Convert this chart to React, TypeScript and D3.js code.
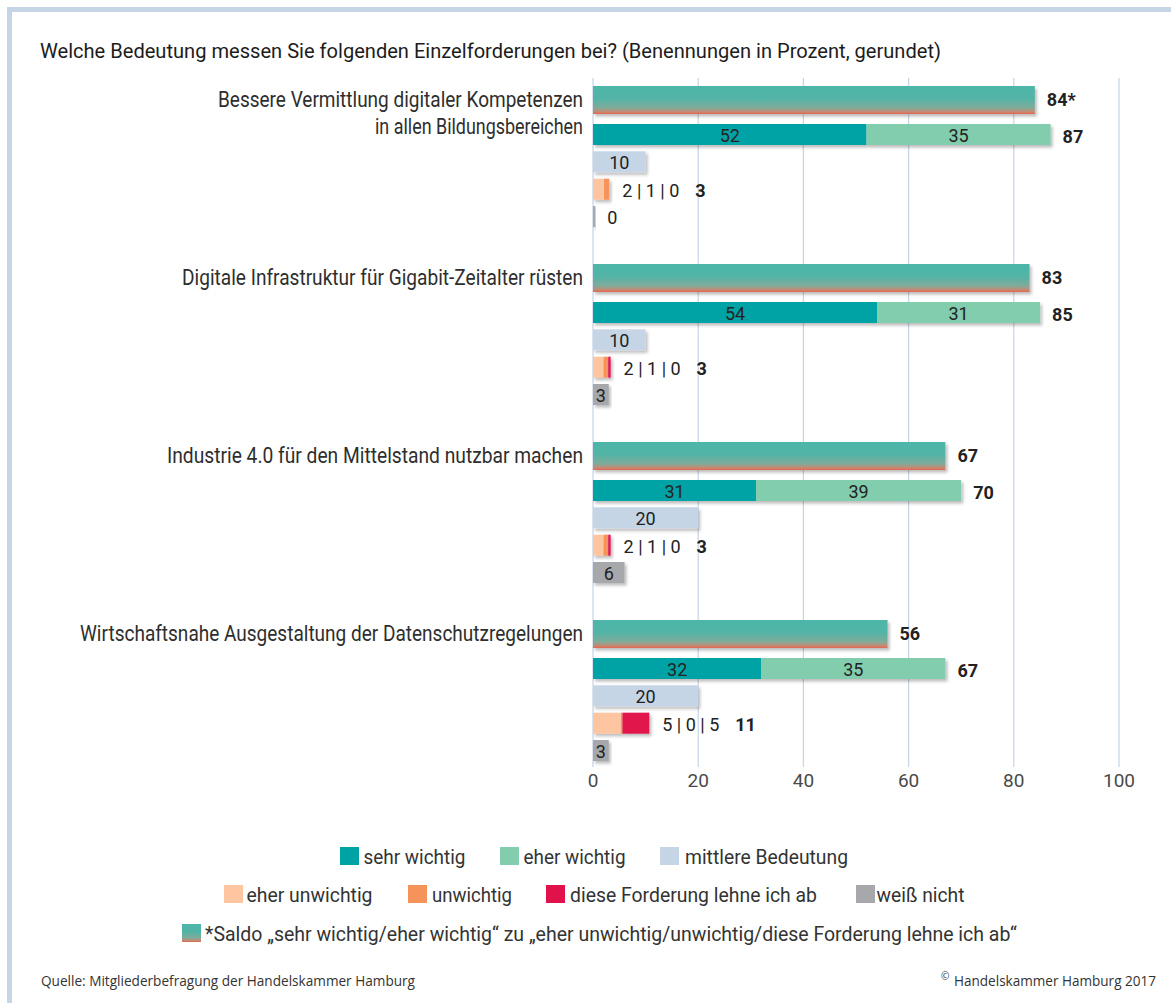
import React from "react";
import * as d3 from "d3";

// ---------- data ----------
const categories: string[][] = [
  ["Bessere Vermittlung digitaler Kompetenzen", "in allen Bildungsbereichen"],
  ["Digitale Infrastruktur für Gigabit-Zeitalter rüsten"],
  ["Industrie 4.0 für den Mittelstand nutzbar machen"],
  ["Wirtschaftsnahe Ausgestaltung der Datenschutzregelungen"],
];
const saldo = [84, 83, 67, 56];
const sehrWichtig = [52, 54, 31, 32];
const eherWichtig = [35, 31, 39, 35];
const wichtigTotal = [87, 85, 70, 67];
const mittlereBedeutung = [10, 10, 20, 20];
const eherUnwichtig = [2.1, 2.0, 2.0, 5.3];
const unwichtig = [1.0, 0.9, 0.9, 0.3];
const lehneAb = [0, 0.45, 0.45, 5.1];
const weissNicht = [0.45, 3, 6, 3];
const xTicks = [0, 20, 40, 60, 80, 100];

const title =
  "Welche Bedeutung messen Sie folgenden Einzelforderungen bei? (Benennungen in Prozent, gerundet)";
const legendRow1 = [
  { key: "sehr", label: "sehr wichtig" },
  { key: "eher", label: "eher wichtig" },
  { key: "mittel", label: "mittlere Bedeutung" },
];
const legendRow2 = [
  { key: "eherUn", label: "eher unwichtig" },
  { key: "un", label: "unwichtig" },
  { key: "ab", label: "diese Forderung lehne ich ab" },
  { key: "weiss", label: "weiß nicht" },
];
const legendRow3 = [
  {
    key: "saldo",
    label:
      "*Saldo „sehr wichtig/eher wichtig“ zu „eher unwichtig/unwichtig/diese Forderung lehne ich ab“",
  },
];
const sourceText = "Quelle: Mitgliederbefragung der Handelskammer Hamburg";
const copyrightText = "Handelskammer Hamburg 2017";

// ---------- styles / layout ----------
const COLORS: Record<string, string> = {
  sehr: "#00a3a5",
  eher: "#82cdae",
  mittel: "#c6d5e6",
  eherUn: "#fdc5a0",
  un: "#f6935a",
  ab: "#e1124b",
  weiss: "#a6a8ab",
  saldo: "url(#saldoGrad)",
};
const FONT = "Roboto, 'Liberation Sans', Arial, sans-serif";
const FOOT_FONT = "'Open Sans', 'Noto Sans', sans-serif";
const TEXT = "#2a2a2a";

const labelLayout = [
  [{ w: 365, dy: 20.7 }, { w: 208, dy: 48.3 }],
  [{ w: 401, dy: 20.7 }],
  [{ w: 416, dy: 20.7 }],
  [{ w: 503, dy: 20.7 }],
];
const legendLayout = [
  { y: 847, items: [{ x: 340, w: 102, gap: 4.5 }, { x: 500, w: 102, gap: 4.5 }, { x: 660, w: 163, gap: 6 }] },
  {
    y: 885,
    items: [
      { x: 224, w: 126, gap: 3.5 },
      { x: 408, w: 80, gap: 5 },
      { x: 546, w: 247, gap: 5 },
      { x: 856, w: 88, gap: 1.5 },
    ],
  },
  { y: 924, items: [{ x: 182, w: 812, gap: 4 }] },
];

function FitText(props: any) {
  const { x, y, w, anchor = "start", size, weight = 400, fill = TEXT, family = FONT, children } = props;
  const sx = anchor === "end" ? x - w : anchor === "middle" ? x - w / 2 : x;
  return (
    <text
      x={sx}
      y={y}
      textLength={w}
      lengthAdjust="spacingAndGlyphs"
      fontSize={size}
      fontWeight={weight}
      fill={fill}
      fontFamily={family}
    >
      {children}
    </text>
  );
}

export default function App() {
  const x = d3.scaleLinear().domain([0, 100]).range([593, 1119]);
  const groups = d3
    .scaleBand<number>()
    .domain(d3.range(categories.length))
    .range([86, 86 + 178 * categories.length])
    .paddingInner(0);
  const SALDO_H = 28;
  const BAR_H = 21;
  const rowOff = [38, 65.3, 92.7, 120];
  const w = (v: number) => x(v) - x(0);

  return (
    <svg
      width={1171}
      height={1003}
      style={{ position: "fixed", left: 0, top: 0, background: "#fff", display: "block" }}
    >
      <defs>
        <linearGradient id="saldoGrad" x1="0" y1="0" x2="0" y2="1">
          <stop offset="0" stopColor="#4db6a9" />
          <stop offset="0.45" stopColor="#52b4a6" />
          <stop offset="0.78" stopColor="#80ab9a" />
          <stop offset="0.92" stopColor="#c48a74" />
          <stop offset="1" stopColor="#e8654c" />
        </linearGradient>
        <filter id="shadow" x="-10%" y="-30%" width="130%" height="180%">
          <feDropShadow dx="2" dy="2.5" stdDeviation="1.6" floodColor="#000" floodOpacity="0.26" />
        </filter>
      </defs>

      {/* frame */}
      <path d="M9.5,1003 V9.5 H1171" fill="none" stroke="#c6d5e6" strokeWidth={5} />

      {/* title */}
      <FitText x={40} y={57.7} w={901} size={20} fill="#1c1c1c">
        {title}
      </FitText>

      {/* grid */}
      {xTicks.map((t) => (
        <g key={t}>
          <line x1={x(t)} x2={x(t)} y1={78} y2={767} stroke="#c6d5e6" strokeWidth={1.2} />
          <text
            x={x(t)}
            y={787.3}
            textAnchor="middle"
            fontSize={19}
            fill="#4a4a4a"
            fontFamily={FONT}
          >
            {t}
          </text>
        </g>
      ))}

      {categories.map((lines, i) => {
        const top = groups(i)!;
        const rSehr = top + rowOff[0];
        const rMit = top + rowOff[1];
        const rUn = top + rowOff[2];
        const rWn = top + rowOff[3];
        const unParts = [eherUnwichtig[i], unwichtig[i], lehneAb[i]];
        const unKeys = ["eherUn", "un", "ab"];
        const unEnd = x(d3.sum(unParts));
        const unRounded = unParts.map((v) => Math.round(v));
        const unTotal = Math.round(d3.sum(unParts));
        const wn = weissNicht[i];
        let acc = 0;
        return (
          <g key={i}>
            {lines.map((ln, j) => (
              <FitText
                key={j}
                x={583}
                y={top + labelLayout[i][j].dy}
                w={labelLayout[i][j].w}
                anchor="end"
                size={22}
                fill="#2e2e2e"
              >
                {ln}
              </FitText>
            ))}

            {/* saldo */}
            <rect
              x={x(0)}
              y={top}
              width={w(saldo[i])}
              height={SALDO_H}
              fill={COLORS.saldo}
              filter="url(#shadow)"
            />
            <text
              x={x(saldo[i]) + 12}
              y={top + 20}
              fontSize={18}
              fontWeight={700}
              fill="#222"
              fontFamily={FONT}
            >
              {i === 0 ? `${saldo[i]}*` : saldo[i]}
            </text>

            {/* sehr + eher */}
            <g filter="url(#shadow)">
              <rect x={x(0)} y={rSehr} width={w(sehrWichtig[i])} height={BAR_H} fill={COLORS.sehr} />
              <rect
                x={x(sehrWichtig[i])}
                y={rSehr}
                width={w(eherWichtig[i])}
                height={BAR_H}
                fill={COLORS.eher}
              />
            </g>
            <text
              x={x(sehrWichtig[i] / 2)}
              y={rSehr + 18}
              textAnchor="middle"
              fontSize={18}
              fill="#222"
              fontFamily={FONT}
            >
              {sehrWichtig[i]}
            </text>
            <text
              x={x(sehrWichtig[i] + eherWichtig[i] / 2)}
              y={rSehr + 18}
              textAnchor="middle"
              fontSize={18}
              fill="#222"
              fontFamily={FONT}
            >
              {eherWichtig[i]}
            </text>
            <text
              x={x(sehrWichtig[i] + eherWichtig[i]) + 12}
              y={rSehr + 18.5}
              fontSize={18}
              fontWeight={700}
              fill="#222"
              fontFamily={FONT}
            >
              {wichtigTotal[i]}
            </text>

            {/* mittlere */}
            <rect
              x={x(0)}
              y={rMit}
              width={w(mittlereBedeutung[i])}
              height={BAR_H}
              fill={COLORS.mittel}
              filter="url(#shadow)"
            />
            <text
              x={x(mittlereBedeutung[i] / 2)}
              y={rMit + 18}
              textAnchor="middle"
              fontSize={18}
              fill="#222"
              fontFamily={FONT}
            >
              {mittlereBedeutung[i]}
            </text>

            {/* unwichtig stack */}
            <g filter="url(#shadow)">
              {unParts.map((v, k) => {
                const x0 = acc;
                acc += v;
                return v > 0 ? (
                  <rect key={k} x={x(x0)} y={rUn} width={w(v)} height={BAR_H} fill={COLORS[unKeys[k]]} />
                ) : null;
              })}
            </g>
            <text x={unEnd + 13} y={rUn + 18.5} fontSize={18} fill="#222" fontFamily={FONT}>
              {`${unRounded[0]} | ${unRounded[1]} | ${unRounded[2]}`}
              <tspan dx={16} fontWeight={700}>
                {unTotal}
              </tspan>
            </text>

            {/* weiß nicht */}
            <rect
              x={x(0)}
              y={rWn}
              width={w(wn)}
              height={BAR_H}
              fill={COLORS.weiss}
              filter="url(#shadow)"
            />
            {wn >= 2 ? (
              <text
                x={x(wn / 2)}
                y={rWn + 18}
                textAnchor="middle"
                fontSize={18}
                fill="#222"
                fontFamily={FONT}
              >
                {Math.round(wn)}
              </text>
            ) : (
              <text x={x(wn) + 12} y={rWn + 18} fontSize={18} fill="#222" fontFamily={FONT}>
                {Math.round(wn)}
              </text>
            )}
          </g>
        );
      })}

      {/* legend */}
      {[legendRow1, legendRow2, legendRow3].map((row, r) =>
        row.map((it, k) => {
          const L = legendLayout[r].items[k];
          const y = legendLayout[r].y;
          return (
            <g key={`${r}-${k}`}>
              <rect x={L.x} y={y} width={19} height={18} fill={COLORS[it.key]} />
              <FitText x={L.x + 19 + L.gap} y={y + 17.3} w={L.w} size={19.5} fill="#333">
                {it.label}
              </FitText>
            </g>
          );
        })
      )}

      {/* footer */}
      <FitText x={41} y={985.5} w={374} size={14.5} fill="#333" family={FOOT_FONT}>
        {sourceText}
      </FitText>
      <text x={941} y={980} fontSize={10} fill="#333" fontFamily={FOOT_FONT}>
        ©
      </text>
      <FitText x={954} y={985.5} w={202} size={14.5} fill="#333" family={FOOT_FONT}>
        {copyrightText}
      </FitText>
    </svg>
  );
}
